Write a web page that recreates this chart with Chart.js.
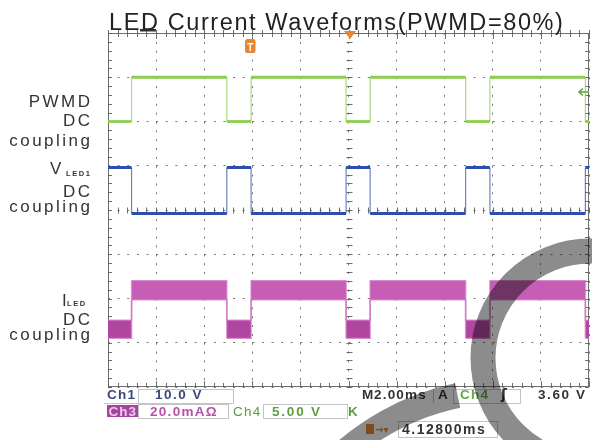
<!DOCTYPE html>
<html>
<head>
<meta charset="utf-8">
<script src="https://cdn.jsdelivr.net/npm/chart.js@4.4.0/dist/chart.umd.min.js"></script>
<style>
html, body { margin: 0; padding: 0; background: #fff; }
</style>
</head>
<body>
<canvas id="myChart" width="592" height="440"></canvas>
<script>
// scope screen: 2 ms/div, 10 div across; levels in divisions (0 = bottom, 8 = top)
var edgeTimes = [0, 0.98, 4.94, 5.95, 9.9, 10.9, 14.87, 15.88, 19.85, 20];
var pwmdLevel = [6.0, 7.0, 6.0, 7.0, 6.0, 7.0, 6.0, 7.0, 6.0];
var vledLevel = [4.96, 3.92, 4.96, 3.92, 4.96, 3.92, 4.96, 3.92, 4.96];
var iledTop = [1.51, 2.4, 1.51, 2.4, 1.51, 2.4, 1.51, 2.4, 1.51];
var iledBottom = [1.1, 1.97, 1.1, 1.97, 1.1, 1.97, 1.1, 1.97, 1.1];

var titleText = 'LED Current Waveforms(PWMD=80%)';

function steps(levels) {
    var pts = [];
    for (var i = 0; i < levels.length; i++) {
        pts.push({x: edgeTimes[i], y: levels[i]});
        pts.push({x: edgeTimes[i + 1], y: levels[i]});
    }
    return pts;
}

function isEdge(c) {
    return c.p0.parsed.x === c.p1.parsed.x;
}

function txt(ctx, s, x, y, font, color, align, spacing) {
    ctx.font = font;
    ctx.fillStyle = color;
    ctx.textAlign = align || 'left';
    ctx.letterSpacing = (spacing || 0) + 'px';
    ctx.fillText(s, x, y);
}

var scopeDecor = {
    id: 'scopeDecor',
    beforeDatasetsDraw: function(chart) {
        var ctx = chart.ctx, a = chart.chartArea;
        var xs = chart.scales.x, ys = chart.scales.y;
        var cx = Math.round(xs.getPixelForValue(10)) + 0.5;
        var cy = Math.round(ys.getPixelForValue(4)) + 0.5;
        ctx.save();
        ctx.strokeStyle = 'rgba(95,95,95,0.9)';
        ctx.lineWidth = 1;
        ctx.strokeRect(a.left + 0.5, a.top + 0.5, a.width - 1, a.height - 1);
        ctx.beginPath();
        for (var t = 0; t <= 20.001; t += 0.4) {
            var px = Math.round(xs.getPixelForValue(t)) + 0.5;
            var major = Math.abs(t / 2 - Math.round(t / 2)) < 0.01;
            var len = major ? 6 : 4;
            ctx.moveTo(px, a.top - 3); ctx.lineTo(px, a.top + len);
            ctx.moveTo(px, a.bottom); ctx.lineTo(px, a.bottom - len);
            ctx.moveTo(px, cy - 3); ctx.lineTo(px, cy + 3);
        }
        for (var v = 0; v <= 8.001; v += 0.2) {
            var py = Math.round(ys.getPixelForValue(v)) + 0.5;
            ctx.moveTo(a.left, py); ctx.lineTo(a.left + 4, py);
            ctx.moveTo(a.right, py); ctx.lineTo(a.right - 4, py);
            ctx.moveTo(cx - 3, py); ctx.lineTo(cx + 3, py);
        }
        ctx.stroke();
        // trigger position bar
        ctx.fillStyle = '#333';
        ctx.fillRect(140, 29, 16, 2.5);
        ctx.restore();
    },
    afterDraw: function(chart) {
        var ctx = chart.ctx;
        var sans = '"Liberation Sans", Arial, sans-serif';
        ctx.save();
        ctx.textBaseline = 'alphabetic';

        // title
        txt(ctx, titleText, 109, 29.5, '23.5px ' + sans, '#222', 'left', 1.6);

        // channel labels
        var f = '17px ' + sans, col = '#333';
        txt(ctx, 'PWMD', 92.5, 106.5, f, col, 'right', 2.5);
        txt(ctx, 'DC', 92.5, 125.5, f, col, 'right', 2.5);
        txt(ctx, 'coupling', 92.5, 146, f, col, 'right', 2.5);
        txt(ctx, 'V', 50, 174, f, col, 'left', 0);
        txt(ctx, 'LED1', 66, 175.5, 'bold 7.5px ' + sans, col, 'left', 1.6);
        txt(ctx, 'DC', 92.5, 196.5, f, col, 'right', 2.5);
        txt(ctx, 'coupling', 92.5, 211.5, f, col, 'right', 2.5);
        txt(ctx, 'I', 62, 305.5, f, col, 'left', 0);
        txt(ctx, 'LED', 67, 306, 'bold 7.5px ' + sans, col, 'left', 1.6);
        txt(ctx, 'DC', 92.5, 325, f, col, 'right', 2.5);
        txt(ctx, 'coupling', 92.5, 340, f, col, 'right', 2.5);

        // markers on the screen
        ctx.fillStyle = '#e8852e';
        ctx.beginPath();
        ctx.roundRect(245, 39, 10.5, 14, 2.5);
        ctx.fill();
        txt(ctx, 'T', 250.3, 50.5, 'bold 10px ' + sans, '#fff', 'center', 0);
        ctx.fillStyle = '#e8852e';
        ctx.beginPath();
        ctx.moveTo(344, 31); ctx.lineTo(356, 31); ctx.lineTo(350, 39); ctx.closePath();
        ctx.fill();
        ctx.strokeStyle = '#5aa83a';
        ctx.lineWidth = 1.5;
        ctx.beginPath();
        ctx.moveTo(589, 92); ctx.lineTo(579, 92);
        ctx.moveTo(583, 88.5); ctx.lineTo(579, 92); ctx.lineTo(583, 95.5);
        ctx.stroke();

        // readout boxes
        ctx.strokeStyle = '#c4c4c4';
        ctx.lineWidth = 1;
        ctx.strokeRect(138.5, 389.5, 95, 14);
        ctx.strokeRect(453.5, 389.5, 67, 14);
        ctx.strokeRect(138.5, 404.5, 90, 14);
        ctx.strokeRect(263.5, 404.5, 84, 14);
        ctx.strokeRect(398.5, 421.5, 99, 16);
        ctx.beginPath();
        ctx.moveTo(104, 403.5); ctx.lineTo(233, 403.5);
        ctx.moveTo(433.5, 389); ctx.lineTo(433.5, 403);
        ctx.stroke();

        var b = 'bold 13.5px ' + sans;
        txt(ctx, 'Ch1', 107, 399, b, '#3c4876', 'left', 1.2);
        txt(ctx, '10.0 V', 155, 399, b, '#3c4876', 'left', 1.5);
        txt(ctx, 'M', 362, 399, b, '#333', 'left', 0);
        txt(ctx, '2.00ms', 374, 399, b, '#333', 'left', 1.2);
        txt(ctx, 'A', 438, 399, b, '#333', 'left', 0);
        txt(ctx, 'Ch4', 460, 399, b, '#62a846', 'left', 1.2);
        txt(ctx, '\u0283', 501, 399, 'bold 14px "DejaVu Sans", sans-serif', '#333', 'left', 0);
        txt(ctx, '3.60 V', 538, 399, b, '#333', 'left', 1.6);

        ctx.fillStyle = '#a4449f';
        ctx.fillRect(107, 405, 31, 12);
        txt(ctx, 'Ch3', 108.5, 415.5, b, '#f0c8ec', 'left', 1);
        txt(ctx, '20.0mA\u03A9', 150, 415.5, b, '#b650aa', 'left', 1.3);
        txt(ctx, 'Ch4', 233, 415.5, '13.5px ' + sans, '#55a038', 'left', 1.2);
        txt(ctx, '5.00 V', 272, 415.5, b, '#5e9e3e', 'left', 1.8);
        txt(ctx, 'K', 348, 415.5, b, '#5e9e3e', 'left', 0);

        ctx.fillStyle = '#e8852e';
        ctx.fillRect(366, 424, 8, 10);
        txt(ctx, '\u2192\u25BE', 375, 433, 'bold 10px "DejaVu Sans", sans-serif', '#e8852e', 'left', 0);
        txt(ctx, '4.12800ms', 402, 434, 'bold 14px ' + sans, '#333', 'left', 1.5);

        // grey ring watermark
        ctx.globalCompositeOperation = 'multiply';
        ctx.strokeStyle = 'rgb(140,140,140)';
        ctx.lineWidth = 25;
        ctx.beginPath();
        ctx.arc(590, 358, 107, 0, Math.PI * 2);
        ctx.stroke();
        ctx.beginPath();
        ctx.arc(510, 642, 252, -136 * Math.PI / 180, -102 * Math.PI / 180);
        ctx.stroke();
        ctx.restore();
    }
};

var ctx = document.getElementById('myChart').getContext('2d');
var myChart = new Chart(ctx, {
    type: 'line',
    data: {
        datasets: [{
            label: 'PWMD',
            data: steps(pwmdLevel),
            borderColor: 'rgb(141,206,82)',
            borderWidth: 2.8,
            pointRadius: 0,
            segment: {
                borderWidth: function(c) { return isEdge(c) ? 1.2 : undefined; },
                borderColor: function(c) { return isEdge(c) ? 'rgba(141,206,82,0.75)' : undefined; }
            }
        }, {
            label: 'VLED1',
            data: steps(vledLevel),
            borderColor: 'rgb(44,78,172)',
            borderWidth: 3,
            pointRadius: 0,
            segment: {
                borderWidth: function(c) { return isEdge(c) ? 1.2 : undefined; },
                borderColor: function(c) { return isEdge(c) ? 'rgba(44,78,172,0.7)' : undefined; }
            }
        }, {
            label: 'ILED top',
            data: steps(iledTop),
            borderColor: 'rgba(205,110,190,0.7)',
            borderWidth: 1.5,
            pointRadius: 0,
            fill: false
        }, {
            label: 'ILED bottom',
            data: steps(iledBottom),
            borderColor: 'rgba(205,110,190,0.7)',
            borderWidth: 1.5,
            pointRadius: 0,
            fill: '-1',
            backgroundColor: 'rgb(198,94,182)',
            segment: {
                backgroundColor: function(c) { return c.p0.parsed.y < 1.5 ? 'rgb(176,70,160)' : undefined; }
            }
        }]
    },
    options: {
        responsive: false,
        animation: false,
        events: [],
        layout: {
            padding: {left: 108, right: 3, top: 33, bottom: 53}
        },
        plugins: {
            legend: {display: false},
            tooltip: {enabled: false},
            title: {display: false}
        },
        scales: {
            x: {
                type: 'linear',
                min: 0,
                max: 20,
                ticks: {display: false, stepSize: 2},
                grid: {color: 'rgba(85,85,85,0.8)', lineWidth: 1, drawTicks: false},
                border: {display: false, dash: [2, 6.85]}
            },
            y: {
                min: 0,
                max: 8,
                ticks: {display: false, stepSize: 1},
                grid: {color: 'rgba(85,85,85,0.8)', lineWidth: 1, drawTicks: false},
                border: {display: false, dash: [2, 7.62]}
            }
        }
    },
    plugins: [scopeDecor]
});
</script>
</body>
</html>
